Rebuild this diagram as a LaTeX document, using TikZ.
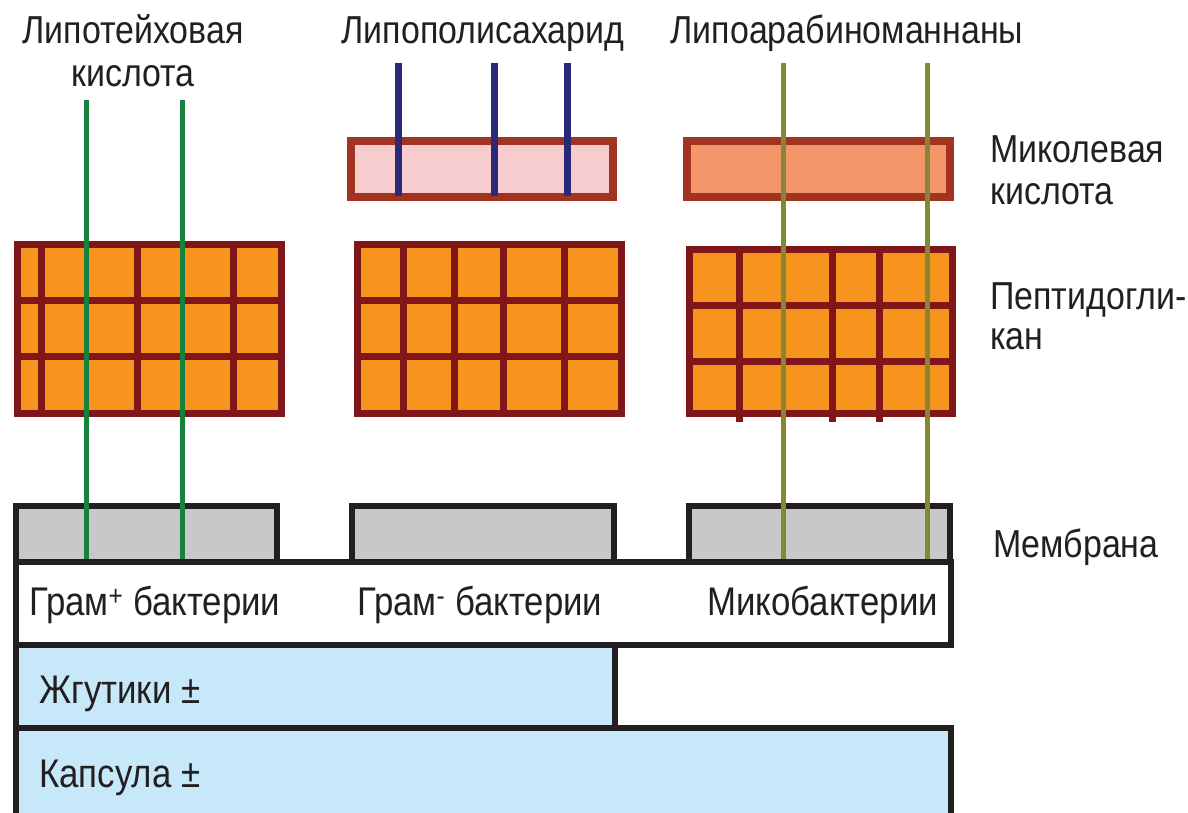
\documentclass[tikz,border=0pt]{standalone}
\usepackage{fontspec}
\setmainfont{Liberation Sans}[FakeStretch=0.87]
\definecolor{txt}{RGB}{35,31,32}
\definecolor{pgfill}{RGB}{247,148,29}
\definecolor{pgline}{RGB}{128,22,24}
\definecolor{pinkfill}{RGB}{247,204,206}
\definecolor{salfill}{RGB}{243,150,108}
\definecolor{rimred}{RGB}{160,52,32}
\definecolor{navy}{RGB}{40,42,120}
\definecolor{ltagreen}{RGB}{22,130,62}
\definecolor{olive}{RGB}{132,136,52}
\definecolor{memgray}{RGB}{200,200,202}
\definecolor{capblue}{RGB}{199,232,248}
\begin{document}
\begin{tikzpicture}[x=1pt,y=-1pt,
  lbl/.style={inner sep=0pt,text=txt,font=\fontsize{39}{42}\selectfont},
  blbl/.style={lbl,font=\fontsize{40}{42}\selectfont},
  pgbox/.style={fill=pgfill,draw=pgline,line width=7pt},
  pgbar/.style={draw=pgline,line width=7pt},
  topbox/.style={draw=rimred,line width=8pt},
  blk/.style={draw=txt,line width=6pt},
  lta/.style={draw=ltagreen,line width=5pt},
  lps/.style={draw=navy,line width=7pt},
  lam/.style={draw=olive,line width=5pt}]
\useasboundingbox (0,0) rectangle (1188,812);
\clip (0,0) rectangle (1188,812);
\fill[white] (0,0) rectangle (1188,812);

% peptidoglycan grids
\draw[pgbox] (17,244) rectangle (281,413);
\foreach \x in {41,137,233} \draw[pgbar] (\x,244) -- (\x,413);
\foreach \y in {300,356} \draw[pgbar] (17,\y) -- (281,\y);

\draw[pgbox] (357,244) rectangle (621,413);
\foreach \x in {403,454,503,564} \draw[pgbar] (\x,244) -- (\x,413);
\foreach \y in {300,356} \draw[pgbar] (357,\y) -- (621,\y);

\draw[pgbox] (689,249) rectangle (952,413);
\foreach \x in {739,832,879} \draw[pgbar] (\x,249) -- (\x,422);
\foreach \y in {305,361} \draw[pgbar] (689,\y) -- (952,\y);

% outer layers
\draw[topbox,fill=pinkfill] (351,141) rectangle (613,197);
\draw[topbox,fill=salfill] (687,141) rectangle (950,197);

% membranes
\draw[blk,fill=memgray] (16,562) -- (16,506) -- (277,506) -- (277,562);
\draw[blk,fill=memgray] (352,562) -- (352,506) -- (614,506) -- (614,562);
\draw[blk,fill=memgray] (689,562) -- (689,506) -- (950,506) -- (950,562);

% bars
\draw[blk,fill=capblue] (16,728) rectangle (951,830);
\draw[blk,fill=capblue] (16,645) rectangle (615,728);
\draw[blk,fill=white] (16,562) rectangle (951,645);

% polymers
\draw[lta] (86,100) -- (86,559);
\draw[lta] (182,100) -- (182,559);
\draw[lps] (398,63) -- (398,196);
\draw[lps] (494,63) -- (494,196);
\draw[lps] (567,63) -- (567,196);
\draw[lam] (783,63) -- (783,559);
\draw[lam] (927,63) -- (927,559);

% labels
\node[lbl,anchor=base] (lta1) at (133,43) {Липотейховая};
\node[lbl,anchor=base] (lta2) at (133,86) {кислота};
\node[lbl,anchor=base] (lps1) at (483,43) {Липополисахарид};
\node[lbl,anchor=base] (lam1) at (847,43) {Липоарабиноманнаны};
\node[lbl,anchor=base west] (myc1) at (990,162) {Миколевая};
\node[lbl,anchor=base west] (myc2) at (990,204) {кислота};
\node[lbl,anchor=base west] (pep1) at (990,309) {Пептидогли-};
\node[lbl,anchor=base west] (pep2) at (990,349) {кан};
\node[lbl,anchor=base west] (mem) at (993,557) {Мембрана};
\node[blbl,anchor=base west] (gp) at (29,615) {Грам\textsuperscript{+} бактерии};
\node[blbl,anchor=base west] (gn) at (357,615) {Грам\textsuperscript{-} бактерии};
\node[blbl,anchor=base west] (myb) at (707,615) {Микобактерии};
\node[blbl,anchor=base west] (fla) at (39,703) {Жгутики ±};
\node[blbl,anchor=base west] (cap) at (39,787) {Капсула ±};
\end{tikzpicture}
\end{document}
